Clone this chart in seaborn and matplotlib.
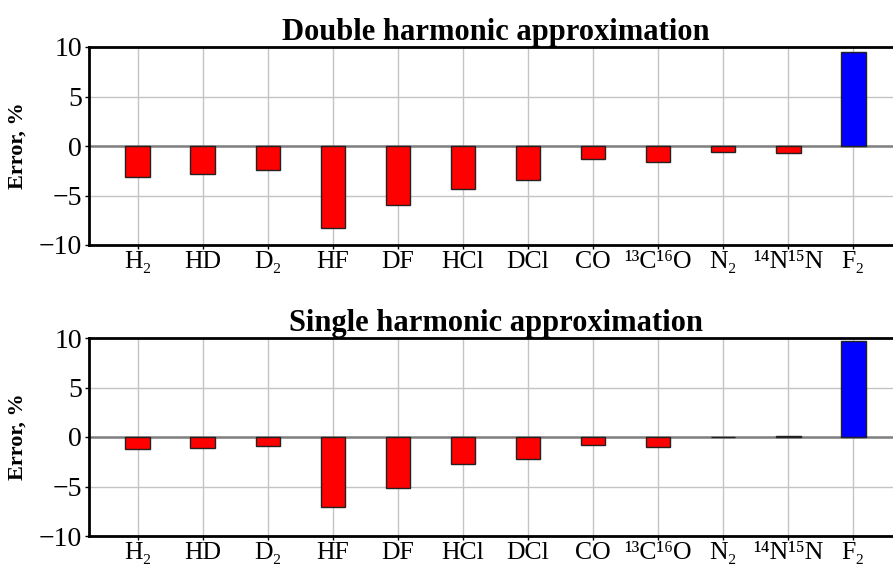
import matplotlib
matplotlib.use("Agg")
import matplotlib.pyplot as plt
import seaborn as sns
import pandas as pd

# Molecules along the x axis
molecules = ["H₂", "HD", "D₂", "HF", "DF", "HCl", "DCl", "CO",
             "¹³C¹⁶O", "N₂", "¹⁴N¹⁵N", "F₂"]

# Relative error (%) of each approximation
double_harmonic = [-3.1, -2.8, -2.4, -8.3, -6.0, -4.3, -3.45, -1.35, -1.6, -0.64, -0.7, 9.5]
single_harmonic = [-1.24, -1.14, -0.94, -7.03, -5.17, -2.72, -2.22, -0.77, -1.04, -0.05, 0.08, 9.65]

titles = ["Double harmonic approximation", "Single harmonic approximation"]

sns.set_theme(style="white")
plt.rcParams["font.family"] = ["Liberation Serif", "DejaVu Serif"]
plt.rcParams["text.color"] = "black"
plt.rcParams["axes.labelcolor"] = "black"
plt.rcParams["axes.titlecolor"] = "black"
plt.rcParams["xtick.labelcolor"] = "black"
plt.rcParams["ytick.labelcolor"] = "black"

W, H = 893, 564
fig = plt.figure(figsize=(W / 100, H / 100), dpi=100)

# axes boxes in pixels: (left, top, right, bottom)
boxes = [(89, 47, 902, 245), (89, 338, 902, 536)]

for values, title, (l, t, r, b) in zip([double_harmonic, single_harmonic], titles, boxes):
    ax = fig.add_axes([l / W, 1 - b / H, (r - l) / W, (b - t) / H])
    df = pd.DataFrame({"molecule": molecules, "error": values})
    colors = {m: ("#0000ff" if v > 0 else "#ff0000") for m, v in zip(molecules, values)}
    ax.axhline(0, color="#808080", lw=1.8, zorder=1.5)
    sns.barplot(data=df, x="molecule", y="error", hue="molecule", palette=colors,
                legend=False, width=0.38, edgecolor="#222222", linewidth=1.0,
                saturation=1, ax=ax, zorder=2)
    ax.set_xlim(-0.75, 11.75)
    ax.set_ylim(-10, 10)
    ax.set_yticks([-10, -5, 0, 5, 10])
    ax.set_yticklabels(["\u221210", "\u22125", "0", "5", "10"])
    ax.grid(True, color="#c4c4c4", lw=1.0, zorder=0)
    ax.set_axisbelow(True)
    for side in ["left", "bottom", "top", "right"]:
        ax.spines[side].set_color("black")
        ax.spines[side].set_linewidth(2.0)
    ax.tick_params(axis="both", which="both", length=3, width=1, color="black",
                   labelcolor="black", left=True, bottom=True)
    ax.tick_params(axis="y", labelsize=20, pad=2)
    ax.tick_params(axis="x", labelsize=18.5, pad=1)
    ax.set_xlabel("")
    ax.set_ylabel("Error, %", fontsize=16, fontweight="bold", color="black")
    ax.yaxis.set_label_coords(-0.075, 0.5)
    ax.set_title(title, fontsize=22, fontweight="bold", pad=4, color="black")

fig.savefig("out.png", dpi=100)
